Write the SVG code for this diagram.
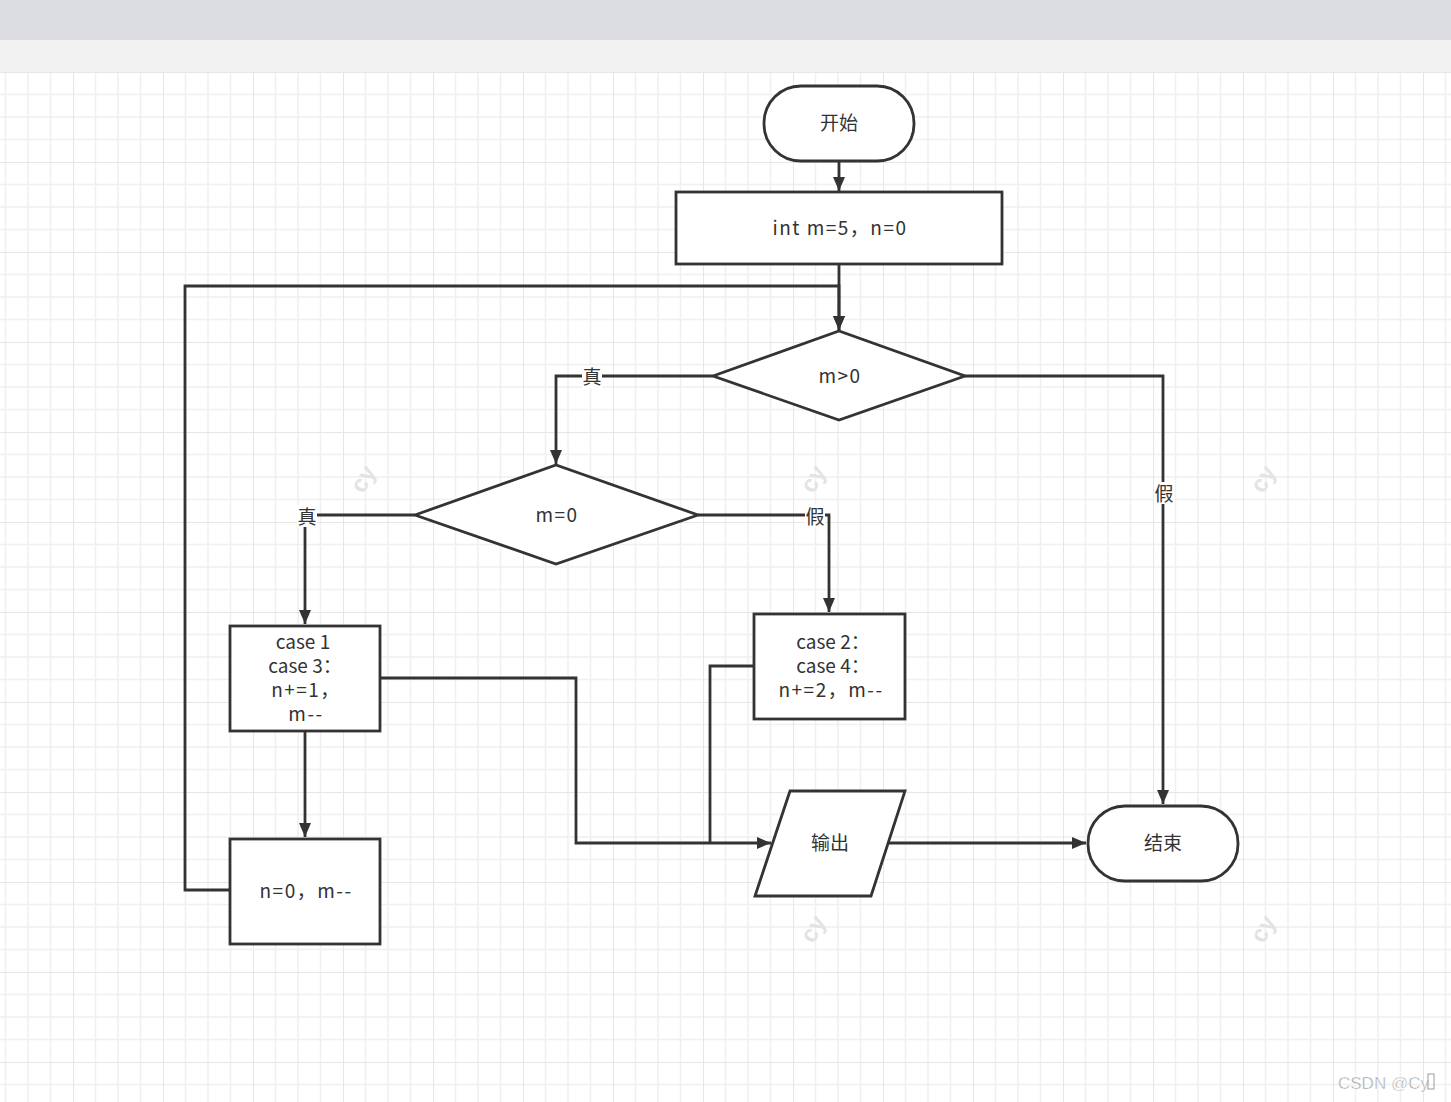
<svg xmlns="http://www.w3.org/2000/svg" width="1451" height="1102" viewBox="0 0 1451 1102">
<defs>
<pattern id="grid" x="73" y="72" width="90" height="90" patternUnits="userSpaceOnUse">
<path d="M22.5,0V90M45,0V90M67.5,0V90M0,22.5H90M0,45H90M0,67.5H90" stroke="#f0f0f0" stroke-width="1.5" fill="none"/>
<path d="M0,0V90M0,0H90" stroke="#e6e6e6" stroke-width="2" fill="none"/>
</pattern>
<marker id="arr" viewBox="0 0 14 12" refX="14" refY="6" markerWidth="14" markerHeight="12" orient="auto" markerUnits="userSpaceOnUse">
<path d="M0,0L14,6L0,12z" fill="#333"/>
</marker>
<style>
.shape{fill:#fff;stroke:#333;stroke-width:2.8}
.conn{fill:none;stroke:#333;stroke-width:2.8}
.t{font-family:"Noto Sans CJK SC","Noto Sans",sans-serif;font-size:19px;fill:#333;text-anchor:middle}
.sp{letter-spacing:1.5px}
.lbl{font-family:"Noto Sans CJK SC",sans-serif;font-size:19px;fill:#333;text-anchor:middle}
.wm{font-family:"Liberation Sans",sans-serif;font-size:24px;fill:#e3e3e3;font-weight:bold;text-anchor:middle}
</style>
</defs>
<rect x="0" y="0" width="1451" height="40" fill="#dcdde1"/>
<rect x="0" y="40" width="1451" height="32" fill="#f2f2f2"/>
<rect x="0" y="72" width="1451" height="1030" fill="#fff"/>
<rect x="0" y="72" width="1451" height="1030" fill="url(#grid)"/>
<g id="watermarks">
<text class="wm" transform="translate(370,483) rotate(-60)">cy</text>
<text class="wm" transform="translate(820,483) rotate(-60)">cy</text>
<text class="wm" transform="translate(1270,483) rotate(-60)">cy</text>
<text class="wm" transform="translate(820,933) rotate(-60)">cy</text>
<text class="wm" transform="translate(1270,933) rotate(-60)">cy</text>
</g>
<g id="connectors">
<path class="conn" d="M839,161V191" marker-end="url(#arr)"/>
<path class="conn" d="M839,264V330" marker-end="url(#arr)"/>
<path class="conn" d="M230,890H185V286H839V330" marker-end="url(#arr)"/>
<path class="conn" d="M713,376H556V464" marker-end="url(#arr)"/>
<path class="conn" d="M965,376H1163V804" marker-end="url(#arr)"/>
<path class="conn" d="M415,515H305V624" marker-end="url(#arr)"/>
<path class="conn" d="M698,515H829V612" marker-end="url(#arr)"/>
<path class="conn" d="M305,731V837" marker-end="url(#arr)"/>
<path class="conn" d="M380,678H576V843H771" marker-end="url(#arr)"/>
<path class="conn" d="M754,666H710V843"/>
<path class="conn" d="M888,843H1086" marker-end="url(#arr)"/>
<g id="labels">
<rect x="582" y="366" width="20" height="22" fill="#fff"/>
<text class="lbl" x="592" y="384">真</text>
<rect x="297" y="505" width="20" height="22" fill="#fff"/>
<text class="lbl" x="307" y="524">真</text>
<rect x="805" y="505" width="20" height="22" fill="#fff"/>
<text class="lbl" x="815" y="524">假</text>
<rect x="1154" y="482" width="20" height="22" fill="#fff"/>
<text class="lbl" x="1164" y="501">假</text>
</g>
</g>
<g id="start">
<rect class="shape" x="764" y="86" width="150" height="75" rx="37" ry="37"/>
<text class="t" x="839" y="130">开始</text>
</g>
<g id="init">
<rect class="shape" x="676" y="192" width="326" height="72"/>
<text class="t sp" x="840" y="235">int m=5，n=0</text>
</g>
<g id="cond1">
<polygon class="shape" points="713,376 839,331 965,376 839,420"/>
<text class="t sp" x="840" y="383">m&gt;0</text>
</g>
<g id="cond2">
<polygon class="shape" points="415,515 556,465 698,515 556,564"/>
<text class="t sp" x="557" y="522">m=0</text>
</g>
<g id="case13">
<rect class="shape" x="230" y="626" width="150" height="105"/>
<text class="t" x="303" y="649">case 1</text>
<text class="t" x="305" y="673">case 3：</text>
<text class="t sp" x="306" y="697">n+=1，</text>
<text class="t sp" x="306" y="721">m--</text>
</g>
<g id="case24">
<rect class="shape" x="754" y="614" width="151" height="105"/>
<text class="t" x="833" y="649">case 2：</text>
<text class="t" x="833" y="673">case 4：</text>
<text class="t sp" x="831" y="697">n+=2，m--</text>
</g>
<g id="reset">
<rect class="shape" x="230" y="839" width="150" height="105"/>
<text class="t sp" x="306" y="898">n=0，m--</text>
</g>
<g id="output">
<polygon class="shape" points="790,791 905,791 871,896 755,896"/>
<text class="t" x="830" y="850">输出</text>
</g>
<g id="end">
<rect class="shape" x="1088" y="806" width="150" height="75" rx="37" ry="37"/>
<text class="t" x="1163" y="850">结束</text>
</g>
<g id="footer">
<text x="1338" y="1089" font-family="Liberation Sans,sans-serif" font-size="17" fill="#9a9a9a" stroke="#fff" stroke-width="0.5">CSDN @Cy</text>
<rect x="1428" y="1074" width="6" height="15" fill="none" stroke="#9a9a9a" stroke-width="1"/>
</g>
</svg>
